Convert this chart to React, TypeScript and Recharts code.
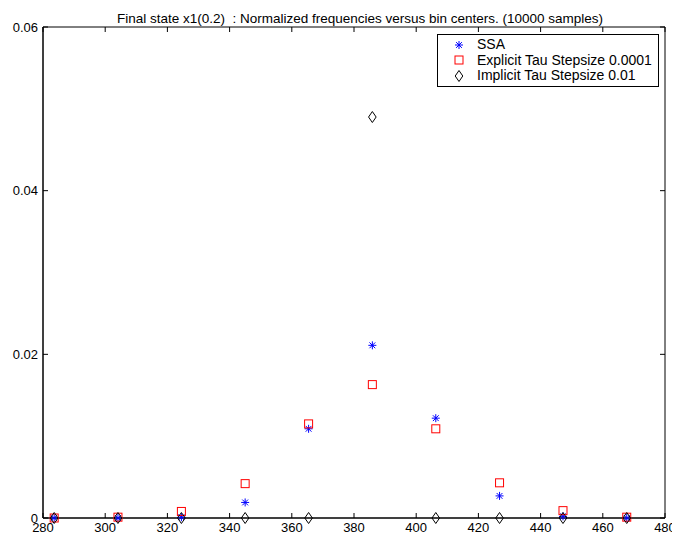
import React from 'react';
import { ComposedChart, Scatter, XAxis, YAxis, CartesianGrid } from 'recharts';

const binCenters = [283.6, 304.1, 324.5, 345.0, 365.4, 385.9, 406.3, 426.8, 447.2, 467.7];
const ssaValues = [0, 0, 0.0001, 0.0019, 0.0109, 0.0211, 0.0122, 0.0027, 0.0002, 0];
const explicitValues = [0, 0.0001, 0.0008, 0.0042, 0.0115, 0.0163, 0.0109, 0.0043, 0.0009, 0.0001];
const implicitValues = [0, 0, 0, 0, 0, 0.049, 0, 0, 0, 0];
const xTicks = [280, 300, 320, 340, 360, 380, 400, 420, 440, 460, 480];
const yTicks = [0, 0.02, 0.04, 0.06];
const yTickLabels = ['0', '0.02', '0.04', '0.06'];
const seriesNames = ['SSA', 'Explicit Tau Stepsize 0.0001', 'Implicit Tau Stepsize 0.01'];
const title = 'Final state x1(0.2)  : Normalized frequencies versus bin centers. (10000 samples)';

const W = 672;
const H = 536;
const M = { top: 19, right: 15, bottom: 0, left: 0 };
const XH = 26;
const YW = 35;
const PLOT_TOP = M.top;
const PLOT_BOTTOM = H - M.bottom - XH;
const PLOT_LEFT = M.left + YW;
const PLOT_RIGHT = W - M.right;
const FONT = '"Liberation Sans", Arial, Helvetica, sans-serif';
const FS = 13;

const toData = (vals: number[]) => binCenters.map((x, i) => ({ x, y: vals[i] }));
const ssaData = toData(ssaValues);
const explicitData = toData(explicitValues);
const implicitData = toData(implicitValues);

const Star = ({ cx, cy }: any) => {
  const r = 4;
  const d = 2.9;
  return (
    <g stroke="#0000ff" strokeWidth={1}>
      <line x1={cx - r} x2={cx + r} y1={cy} y2={cy} />
      <line x1={cx} x2={cx} y1={cy - r} y2={cy + r} />
      <line x1={cx - d} x2={cx + d} y1={cy - d} y2={cy + d} />
      <line x1={cx - d} x2={cx + d} y1={cy + d} y2={cy - d} />
    </g>
  );
};
const Square = ({ cx, cy }: any) => (
  <rect x={cx - 4} y={cy - 4} width={8} height={8} fill="none" stroke="#ff0000" strokeWidth={1} />
);
const Diamond = ({ cx, cy }: any) => (
  <path
    d={`M${cx},${cy - 5.5} L${cx + 3.8},${cy} L${cx},${cy + 5.5} L${cx - 3.8},${cy} Z`}
    fill="none"
    stroke="#000"
    strokeWidth={1}
  />
);

const XTick = ({ x, payload }: any) => (
  <g>
    <line x1={x} x2={x} y1={PLOT_BOTTOM} y2={PLOT_BOTTOM - 5} stroke="#000" />
    <line x1={x} x2={x} y1={PLOT_TOP} y2={PLOT_TOP + 5} stroke="#000" />
    <text x={x} y={PLOT_BOTTOM + 14} textAnchor="middle" fontSize={FS} fontFamily={FONT} fill="#000">
      {payload.value}
    </text>
  </g>
);
const YTick = ({ y, payload }: any) => {
  const idx = yTicks.indexOf(payload.value);
  return (
    <g>
      <line x1={PLOT_LEFT} x2={PLOT_LEFT + 5} y1={y} y2={y} stroke="#000" />
      <line x1={PLOT_RIGHT} x2={PLOT_RIGHT - 5} y1={y} y2={y} stroke="#000" />
      <text x={PLOT_LEFT - 5} y={y + 4.5} textAnchor="end" fontSize={FS} fontFamily={FONT} fill="#000">
        {idx >= 0 ? yTickLabels[idx] : payload.value}
      </text>
    </g>
  );
};

const LegendMarker = ({ kind }: { kind: number }) => (
  <svg width={14} height={14} style={{ display: 'block' }}>
    {kind === 0 && <Star cx={7} cy={7} />}
    {kind === 1 && <Square cx={7} cy={7} />}
    {kind === 2 && <Diamond cx={7} cy={7} />}
  </svg>
);

export default function App() {
  return (
    <div style={{ position: 'relative', width: W, height: H, fontFamily: FONT }}>
      <style>{'.recharts-surface{overflow:visible}'}</style>
      <div
        style={{
          position: 'absolute',
          left: 0,
          width: 704,
          top: 3,
          textAlign: 'center',
          fontSize: 13.5,
          whiteSpace: 'pre',
          color: '#000',
          lineHeight: '15px',
        }}
      >
        {title}
      </div>
      <ComposedChart width={W} height={H} margin={M}>
        <CartesianGrid
          stroke="#000"
          horizontalCoordinatesGenerator={({ offset }: any) => [offset.top, offset.top + offset.height]}
          verticalCoordinatesGenerator={({ offset }: any) => [offset.left, offset.left + offset.width]}
        />
        <XAxis
          type="number"
          dataKey="x"
          domain={[280, 480]}
          ticks={xTicks}
          height={XH}
          tickSize={0}
          tickMargin={0}
          tickLine={false}
          axisLine={{ stroke: '#000' }}
          tick={<XTick />}
          interval={0}
        />
        <YAxis
          type="number"
          dataKey="y"
          domain={[0, 0.06]}
          ticks={yTicks}
          width={YW}
          tickSize={0}
          tickMargin={0}
          tickLine={false}
          axisLine={{ stroke: '#000' }}
          tick={<YTick />}
          interval={0}
        />
        <Scatter name={seriesNames[0]} data={ssaData} shape={<Star />} isAnimationActive={false} />
        <Scatter name={seriesNames[1]} data={explicitData} shape={<Square />} isAnimationActive={false} />
        <Scatter name={seriesNames[2]} data={implicitData} shape={<Diamond />} isAnimationActive={false} />
      </ComposedChart>
      <div
        style={{
          position: 'absolute',
          left: 429,
          top: 26,
          width: 220,
          height: 49,
          border: '1px solid #000',
          background: '#fff',
          fontSize: 14,
          color: '#000',
          paddingTop: 2,
          boxSizing: 'content-box',
        }}
      >
        {seriesNames.map((n, i) => (
          <div key={n} style={{ display: 'flex', alignItems: 'center', height: 15.5 }}>
            <div style={{ marginLeft: 14, marginRight: 11 }}>
              <LegendMarker kind={i} />
            </div>
            <span style={{ lineHeight: '15px', whiteSpace: 'pre' }}>{n}</span>
          </div>
        ))}
      </div>
    </div>
  );
}
